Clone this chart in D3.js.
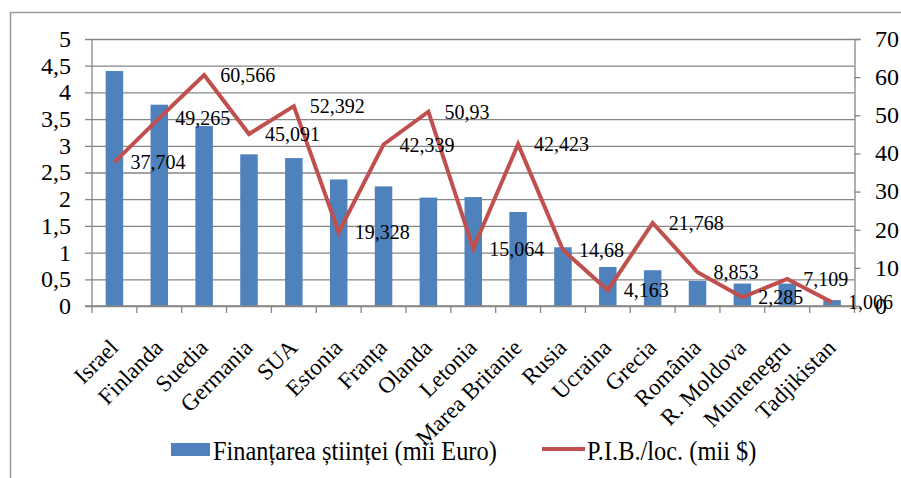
<!DOCTYPE html>
<html>
<head>
<meta charset="utf-8">
<script src="https://cdn.jsdelivr.net/npm/d3@7"></script>
<style>
  html, body { margin: 0; padding: 0; background: #fff; }
  svg { display: block; }
  text { font-family: "Liberation Serif", "Times New Roman", serif; fill: #000; }
</style>
</head>
<body>
<svg id="chart" width="901" height="478"></svg>
<script>
const categories = ["Israel", "Finlanda", "Suedia", "Germania", "SUA", "Estonia", "Franța", "Olanda",
  "Letonia", "Marea Britanie", "Rusia", "Ucraina", "Grecia", "România", "R. Moldova", "Muntenegru", "Tadjikistan"];
const funding = [4.4, 3.77, 3.37, 2.84, 2.77, 2.37, 2.24, 2.03, 2.04, 1.76, 1.1, 0.73, 0.67, 0.47, 0.42, 0.42, 0.11];
const gdp = [37.704, 49.265, 60.566, 45.091, 52.392, 19.328, 42.339, 50.93, 15.064, 42.423, 14.68, 4.163, 21.768, 8.853, 2.285, 7.109, 1.006];
const gdpLabels = ["37,704", "49,265", "60,566", "45,091", "52,392", "19,328", "42,339", "50,93", "15,064", "42,423", "14,68", "4,163", "21,768", "8,853", "2,285", "7,109", "1,006"];
const leftTicks = [0, 0.5, 1, 1.5, 2, 2.5, 3, 3.5, 4, 4.5, 5];
const rightTicks = [0, 10, 20, 30, 40, 50, 60, 70];
const seriesNames = ["Finanțarea științei (mii Euro)", "P.I.B./loc. (mii $)"];

const svg = d3.select("#chart");
const L = 92, R = 854.5, T = 39, B = 306;
const gridColor = "#868686";
const barColor = "#4F81BD";
const lineColor = "#C0504D";

// frame
svg.append("rect").attr("x", 10.5).attr("y", 12.5).attr("width", 900).attr("height", 480)
  .attr("fill", "none").attr("stroke", "#9a9a9a").attr("stroke-width", 1.5);

const x = d3.scaleBand().domain(categories).range([L, R]).paddingInner(0.61).paddingOuter(0.305);
const yL = d3.scaleLinear().domain([0, 5]).range([B, T]);
const yR = d3.scaleLinear().domain([0, 70]).range([B, T]);
const fmt = v => String(v).replace(".", ",");

// gridlines + left ticks
const leftAxis = d3.axisLeft(yL).tickValues(leftTicks).tickSize(-(R - L)).tickFormat("");
const gL = svg.append("g").attr("transform", `translate(${L},0)`).call(leftAxis);
gL.select(".domain").remove();
gL.selectAll(".tick line").attr("stroke", gridColor).attr("stroke-width", 1.3).attr("x1", -7);
svg.selectAll(".leftLab").data(leftTicks).join("text")
  .attr("x", 71).attr("y", d => yL(d)).attr("dy", "0.33em")
  .attr("text-anchor", "end").attr("font-size", 24).text(fmt);

// left axis line
svg.append("line").attr("x1", L).attr("x2", L).attr("y1", T).attr("y2", B)
  .attr("stroke", gridColor).attr("stroke-width", 1.3);

// right axis
const rightAxis = d3.axisRight(yR).tickValues(rightTicks).tickSize(6).tickFormat("");
const gR = svg.append("g").attr("transform", `translate(${R},0)`).call(rightAxis);
gR.select(".domain").attr("stroke", gridColor).attr("stroke-width", 1.3);
gR.selectAll(".tick line").attr("stroke", gridColor).attr("stroke-width", 1.3);
svg.selectAll(".rightLab").data(rightTicks).join("text")
  .attr("x", 875).attr("y", d => yR(d)).attr("dy", "0.33em")
  .attr("text-anchor", "start").attr("font-size", 24).text(d => d);

// bars
svg.selectAll(".bar").data(funding).join("rect")
  .attr("x", (d, i) => x(categories[i]))
  .attr("width", x.bandwidth())
  .attr("y", d => yL(d))
  .attr("height", d => B - yL(d))
  .attr("fill", barColor);

// bottom axis line with category ticks
svg.append("line").attr("x1", L - 7).attr("x2", R).attr("y1", B).attr("y2", B)
  .attr("stroke", gridColor).attr("stroke-width", 1.3);
const step = x.step();
svg.selectAll(".ctick").data(d3.range(categories.length + 1)).join("line")
  .attr("x1", i => L + i * step).attr("x2", i => L + i * step)
  .attr("y1", B).attr("y2", B + 7)
  .attr("stroke", gridColor).attr("stroke-width", 1.3);

// category labels
const cx = c => x(c) + x.bandwidth() / 2;
svg.selectAll(".clab").data(categories).join("text")
  .attr("transform", c => `translate(${cx(c) + 5},349) rotate(-45)`)
  .attr("text-anchor", "end").attr("font-size", 23).text(c => c);

// line
const line = d3.line().x((d, i) => cx(categories[i])).y(d => yR(d));
svg.append("path").datum(gdp).attr("d", line)
  .attr("fill", "none").attr("stroke", lineColor).attr("stroke-width", 4)
  .attr("stroke-linejoin", "miter");

// data labels
svg.selectAll(".dlab").data(gdp).join("text")
  .attr("x", (d, i) => cx(categories[i]) + 16)
  .attr("y", d => yR(d)).attr("dy", "0.35em")
  .attr("font-size", 20).text((d, i) => gdpLabels[i]);

// legend
svg.append("rect").attr("x", 171).attr("y", 443).attr("width", 39).attr("height", 13).attr("fill", barColor);
svg.append("text").attr("transform", "translate(213,460) scale(1,1.15)")
  .attr("font-size", 24.4).text(seriesNames[0]);
svg.append("line").attr("x1", 542).attr("x2", 585).attr("y1", 449).attr("y2", 449)
  .attr("stroke", lineColor).attr("stroke-width", 4);
svg.append("text").attr("transform", "translate(587,460) scale(1,1.15)")
  .attr("font-size", 24.4).text(seriesNames[1]);
</script>
</body>
</html>
